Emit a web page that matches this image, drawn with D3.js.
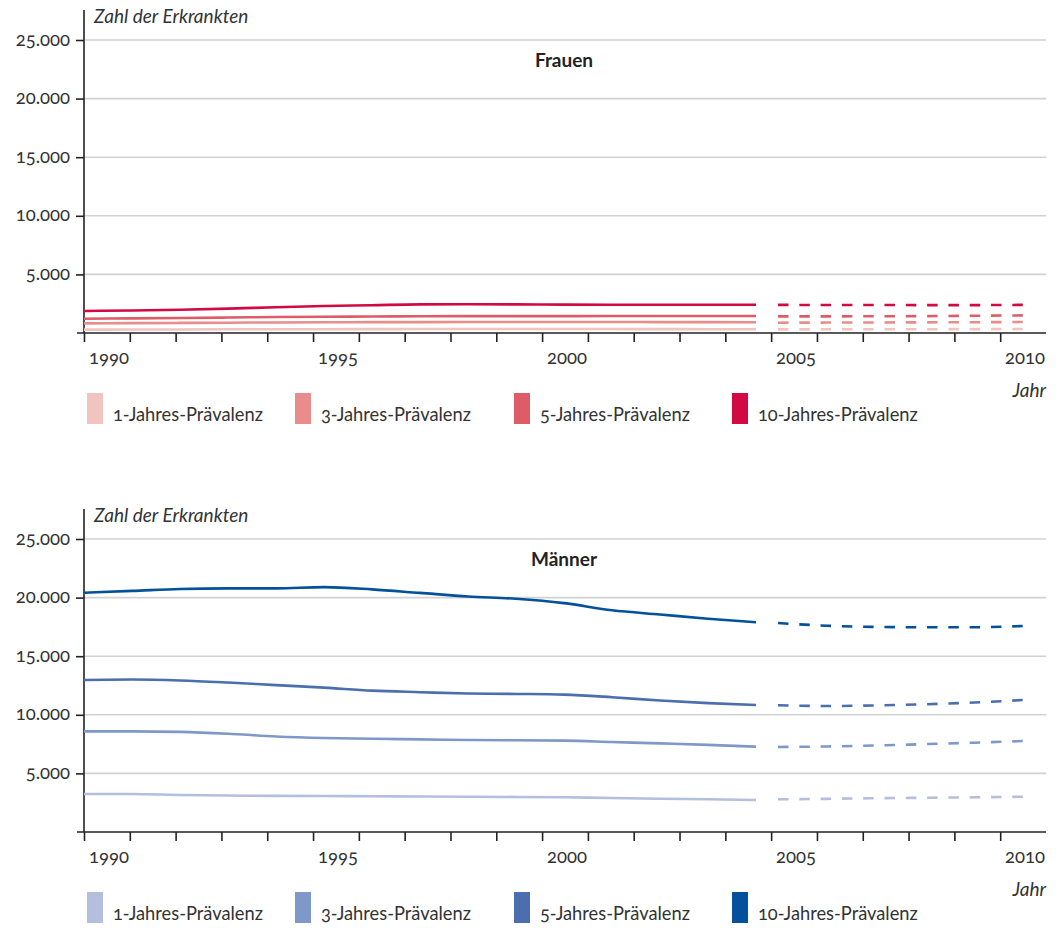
<!DOCTYPE html>
<html>
<head>
<meta charset="utf-8">
<script src="https://cdn.jsdelivr.net/npm/d3@7"></script>
<style>
  html, body { margin: 0; padding: 0; background: #fff; }
  svg { display: block; font-family: Lato, "Open Sans", sans-serif; }
  .num { font-feature-settings: "onum" 1; font-variant-numeric: oldstyle-nums; }
</style>
</head>
<body>
<svg id="chart" width="1061" height="928"></svg>
<script>
// Years: observed (solid) and projected (dashed)
const yearsObserved = [1990, 1991, 1992, 1993, 1994, 1995, 1996, 1997, 1998, 1999, 2000, 2001, 2002, 2003, 2004];
const yearsProjected = [2005, 2006, 2007, 2008, 2009, 2010];

const seriesNames = ["1-Jahres-Prävalenz", "3-Jahres-Prävalenz", "5-Jahres-Prävalenz", "10-Jahres-Prävalenz"];
const yTicks = [5000, 10000, 15000, 20000, 25000];
const xLabelYears = [1990, 1995, 2000, 2005, 2010];

// Frauen
const frauen1Obs = [285, 295, 305, 315, 320, 325, 330, 335, 335, 335, 335, 335, 330, 325, 320];
const frauen1Proj = [310, 315, 320, 325, 330, 340];
const frauen3Obs = [825, 840, 860, 880, 900, 915, 925, 930, 935, 935, 935, 935, 930, 925, 920];
const frauen3Proj = [880, 890, 900, 910, 920, 940];
const frauen5Obs = [1220, 1250, 1280, 1320, 1360, 1390, 1410, 1430, 1440, 1440, 1440, 1450, 1450, 1450, 1450];
const frauen5Proj = [1420, 1420, 1430, 1440, 1470, 1500];
const frauen10Obs = [1880, 1920, 1990, 2080, 2200, 2300, 2370, 2440, 2450, 2440, 2420, 2410, 2410, 2415, 2415];
const frauen10Proj = [2400, 2390, 2390, 2380, 2380, 2400];

// Männer
const maenner1Obs = [3240, 3240, 3160, 3110, 3080, 3070, 3050, 3030, 3010, 2990, 2960, 2900, 2840, 2790, 2730];
const maenner1Proj = [2790, 2830, 2880, 2920, 2960, 3010];
const maenner3Obs = [8590, 8590, 8540, 8380, 8150, 8020, 7960, 7900, 7850, 7830, 7800, 7680, 7560, 7430, 7280];
const maenner3Proj = [7250, 7300, 7380, 7500, 7620, 7765];
const maenner5Obs = [12970, 13010, 12930, 12750, 12530, 12320, 12060, 11930, 11820, 11780, 11720, 11500, 11220, 11000, 10840];
const maenner5Proj = [10810, 10750, 10800, 10900, 11050, 11260];
const maenner10Obs = [20420, 20570, 20740, 20790, 20790, 20890, 20700, 20400, 20100, 19900, 19530, 18920, 18560, 18200, 17900];
const maenner10Proj = [17830, 17600, 17500, 17465, 17470, 17575];

const frauenColors = ["#f2c4bf", "#e88c8c", "#dd5c66", "#d20a44"];
const maennerColors = ["#b4bedf", "#7f97c9", "#4a6eae", "#02519a"];

const svg = d3.select("#chart");

// Axis band scale: each year occupies one interval, 1990..2010
const x = d3.scaleLinear().domain([1990, 2011]).range([84, 1046]);
// Observed and projected points sit on slightly different spacing
const xObs = d3.scaleLinear().domain([1990, 2004]).range([x(1990), x(2004.67)]);
const xProj = d3.scaleLinear().domain([2005, 2010]).range([x(2005.15), x(2010.5)]);

function panel(top, title, obs, proj, colors) {
  const g = svg.append("g");
  const y = d3.scaleLinear().domain([0, 25000]).range([top + 323, top + 30]);

  // gridlines
  g.selectAll("line.grid").data(yTicks).join("line")
    .attr("x1", x(1990)).attr("x2", x(2011))
    .attr("y1", d => y(d)).attr("y2", d => y(d))
    .attr("stroke", "#d2d2d2").attr("stroke-width", 1.6);

  // y axis
  const yAxis = d3.axisLeft(y).tickValues(yTicks).tickSize(8).tickPadding(6)
    .tickFormat(d => d3.format(",")(d).replace(/,/g, "."));
  const ya = g.append("g").attr("transform", `translate(${x(1990)},0)`).call(yAxis);
  ya.select(".domain").remove();
  ya.selectAll(".tick line").attr("stroke", "#222").attr("stroke-width", 1.6);
  ya.selectAll(".tick text").attr("class", "num").attr("fill", "#333")
    .attr("font-family", "Lato, sans-serif")
    .attr("font-size", 18.5).attr("dy", "0.28em");
  g.append("line").attr("x1", x(1990)).attr("x2", x(1990))
    .attr("y1", top).attr("y2", y(0))
    .attr("stroke", "#222").attr("stroke-width", 1.6);

  // x axis
  const xAxis = d3.axisBottom(x).tickValues(d3.range(1990, 2011)).tickSize(9).tickFormat("");
  const xa = g.append("g").attr("transform", `translate(0,${y(0)})`).call(xAxis);
  xa.select(".domain").remove();
  xa.selectAll(".tick line").attr("stroke", "#222").attr("stroke-width", 1.6);
  g.append("line").attr("x1", x(1990) - 7).attr("x2", x(2011))
    .attr("y1", y(0)).attr("y2", y(0))
    .attr("stroke", "#222").attr("stroke-width", 1.6);

  g.selectAll("text.xl").data(xLabelYears).join("text")
    .attr("class", "num")
    .attr("x", d => x(d + 0.5) + 2).attr("y", y(0) + 31)
    .attr("text-anchor", "middle").attr("font-size", 18.5).attr("fill", "#333")
    .text(d => d);

  // labels
  g.append("text").attr("x", 94).attr("y", top + 13)
    .attr("font-style", "italic").attr("font-size", 19).attr("fill", "#333")
    .text("Zahl der Erkrankten");
  g.append("text").attr("x", 564).attr("y", top + 57)
    .attr("text-anchor", "middle").attr("font-weight", "bold").attr("font-size", 19).attr("fill", "#222")
    .text(title);
  g.append("text").attr("x", x(2011)).attr("y", y(0) + 64)
    .attr("text-anchor", "end").attr("font-style", "italic").attr("font-size", 19).attr("fill", "#333")
    .text("Jahr");

  // lines
  const lineObs = d3.line().x((d, i) => xObs(yearsObserved[i])).y(d => y(d)).curve(d3.curveMonotoneX);
  const lineProj = d3.line().x((d, i) => xProj(yearsProjected[i])).y(d => y(d)).curve(d3.curveMonotoneX);
  obs.forEach((vals, k) => {
    g.append("path").attr("d", lineObs(vals)).attr("fill", "none")
      .attr("stroke", colors[k]).attr("stroke-width", 2.6);
  });
  proj.forEach((vals, k) => {
    g.append("path").attr("d", lineProj(vals)).attr("fill", "none")
      .attr("stroke", colors[k]).attr("stroke-width", 2.6)
      .attr("stroke-dasharray", "10.5 10.8");
  });

  // legend
  const legX = [87, 295, 514, 732];
  const lg = g.selectAll("g.leg").data(seriesNames).join("g")
    .attr("transform", (d, i) => `translate(${legX[i]},${y(0) + 60})`);
  lg.append("rect").attr("width", 16).attr("height", 31).attr("fill", (d, i) => colors[i]);
  lg.append("text").attr("class", "num").attr("x", 26).attr("y", 28)
    .attr("font-size", 18.3).attr("fill", "#333").text(d => d);
}

panel(10, "Frauen",
  [frauen1Obs, frauen3Obs, frauen5Obs, frauen10Obs],
  [frauen1Proj, frauen3Proj, frauen5Proj, frauen10Proj],
  frauenColors);

panel(509, "Männer",
  [maenner1Obs, maenner3Obs, maenner5Obs, maenner10Obs],
  [maenner1Proj, maenner3Proj, maenner5Proj, maenner10Proj],
  maennerColors);
</script>
</body>
</html>
